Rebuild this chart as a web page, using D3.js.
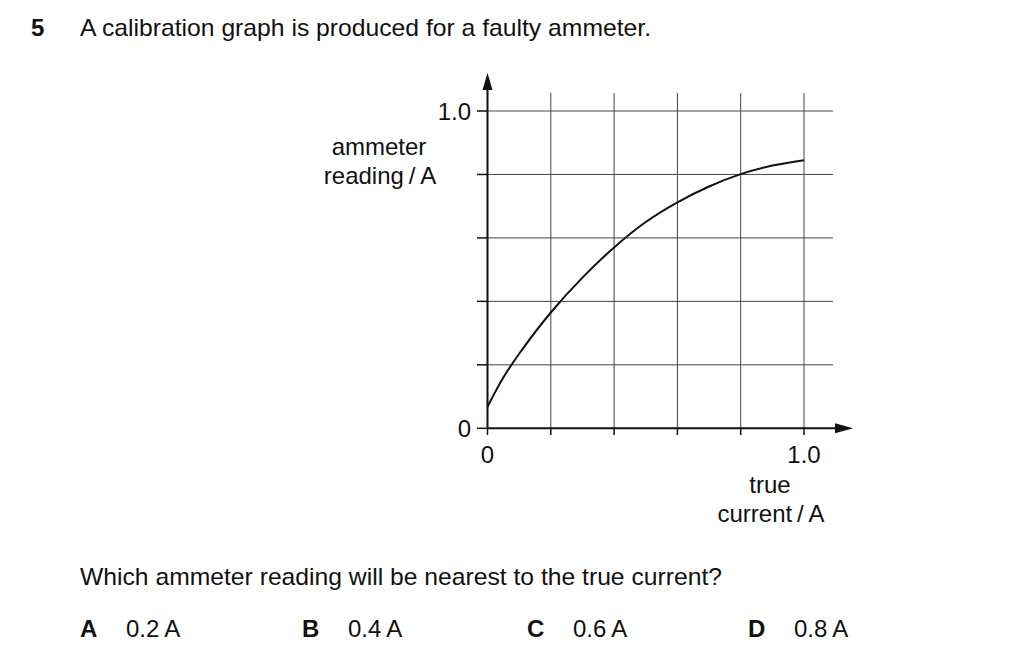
<!DOCTYPE html>
<html><head><meta charset="utf-8">
<script src="https://cdn.jsdelivr.net/npm/d3@7"></script>
<style>body{margin:0;background:#fff}svg{display:block}text{font-family:"Liberation Sans",Arial,sans-serif;fill:#111}</style>
</head><body><svg id="c" width="1024" height="660"></svg>
<script>
const trueCurrent = [0, 0.05, 0.1, 0.2, 0.3, 0.4, 0.5, 0.6, 0.7, 0.8, 0.9, 1.0];
const ammeterReading = [0.068, 0.160, 0.235, 0.365, 0.475, 0.570, 0.650, 0.712, 0.762, 0.801, 0.828, 0.845];
const gridTicks = [0, 0.2, 0.4, 0.6, 0.8, 1.0];
const xTickLabels = [{v:0,t:"0"},{v:1.0,t:"1.0"}];
const yTickLabels = [{v:0,t:"0"},{v:1.0,t:"1.0"}];
const options = [{k:"A",t:"0.2\u2009A"},{k:"B",t:"0.4\u2009A"},{k:"C",t:"0.6\u2009A"},{k:"D",t:"0.8\u2009A"}];

const FS = 24;
const svg = d3.select("#c");
const x = d3.scaleLinear().domain([0,1]).range([487.5,804]);
const y = d3.scaleLinear().domain([0,1]).range([428.3,111]);

// title
svg.append("text").attr("x",31).attr("y",36).attr("font-size",FS).attr("font-weight","bold").text("5");
svg.append("text").attr("x",80).attr("y",36).attr("font-size",FS).attr("textLength",571).attr("lengthAdjust","spacingAndGlyphs").text("A calibration graph is produced for a faulty ammeter.");

// grid
const g = svg.append("g");
g.selectAll("line.vg").data(gridTicks.slice(1)).join("line")
  .attr("x1",d=>x(d)).attr("x2",d=>x(d)).attr("y1",93).attr("y2",y(0))
  .attr("stroke","#444").attr("stroke-width",1);
g.selectAll("line.hg").data(gridTicks.slice(1)).join("line")
  .attr("x1",x(0)).attr("x2",833).attr("y1",d=>y(d)).attr("y2",d=>y(d))
  .attr("stroke","#444").attr("stroke-width",1);

// ticks
g.selectAll("line.yt").data(gridTicks).join("line")
  .attr("x1",477).attr("x2",x(0)).attr("y1",d=>y(d)).attr("y2",d=>y(d))
  .attr("stroke","#111").attr("stroke-width",1.5);
g.selectAll("line.xt").data(gridTicks).join("line")
  .attr("x1",d=>x(d)).attr("x2",d=>x(d)).attr("y1",y(0)).attr("y2",435)
  .attr("stroke","#111").attr("stroke-width",1.5);

// axes
g.append("line").attr("x1",x(0)).attr("x2",x(0)).attr("y1",y(0)).attr("y2",88).attr("stroke","#111").attr("stroke-width",2);
g.append("line").attr("x1",x(0)).attr("x2",838).attr("y1",y(0)).attr("y2",y(0)).attr("stroke","#111").attr("stroke-width",2);
g.append("path").attr("d",`M${x(0)},73 L${x(0)-5},90 L${x(0)+5},90 Z`).attr("fill","#111");
g.append("path").attr("d",`M853,${y(0)} L835,${y(0)-5} L835,${y(0)+5} Z`).attr("fill","#111");

// tick labels
svg.selectAll("text.yl").data(yTickLabels).join("text")
  .attr("x",471).attr("y",d=>y(d.v)+9).attr("text-anchor","end").attr("font-size",FS).text(d=>d.t);
svg.selectAll("text.xl").data(xTickLabels).join("text")
  .attr("x",d=>x(d.v)).attr("y",463).attr("text-anchor","middle").attr("font-size",FS).text(d=>d.t);

// axis titles
svg.append("text").attr("x",379).attr("y",155).attr("text-anchor","middle").attr("font-size",FS).text("ammeter");
svg.append("text").attr("x",380).attr("y",184).attr("text-anchor","middle").attr("font-size",FS).text("reading\u2009/\u2009A");
svg.append("text").attr("x",770).attr("y",493).attr("text-anchor","middle").attr("font-size",FS).text("true");
svg.append("text").attr("x",771).attr("y",522).attr("text-anchor","middle").attr("font-size",FS).text("current\u2009/\u2009A");

// curve
const pts = trueCurrent.map((v,i)=>[v,ammeterReading[i]]);
svg.append("path").datum(pts)
  .attr("d",d3.line().x(d=>x(d[0])).y(d=>y(d[1])).curve(d3.curveCatmullRom.alpha(0.5)))
  .attr("fill","none").attr("stroke","#111").attr("stroke-width",2);

// question
svg.append("text").attr("x",80).attr("y",585).attr("font-size",FS).attr("textLength",642).attr("lengthAdjust","spacingAndGlyphs").text("Which ammeter reading will be nearest to the true current?");
const optX = [80, 302, 527, 748];
options.forEach((o,i)=>{
  svg.append("text").attr("x",optX[i]).attr("y",637).attr("font-size",FS).attr("font-weight","bold").text(o.k);
  svg.append("text").attr("x",optX[i]+46).attr("y",637).attr("font-size",FS).text(o.t);
});
</script></body></html>
